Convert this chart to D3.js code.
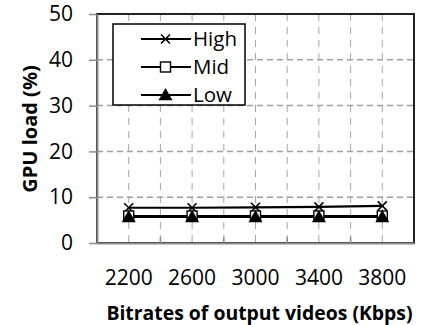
<!DOCTYPE html>
<html>
<head>
<meta charset="utf-8">
<script src="https://cdn.jsdelivr.net/npm/d3@7"></script>
<style>
  body { margin: 0; background: #fff; }
  svg { display: block; }
</style>
</head>
<body>
<svg id="chart" width="430" height="325"></svg>
<script>
const bitrates = ['2200', '2600', '3000', '3400', '3800'];
const high = [7.7, 7.7, 7.8, 7.9, 8.1];
const mid = [5.9, 5.9, 5.9, 5.9, 5.9];
const low = [5.7, 5.7, 5.7, 5.7, 5.7];
const yTicks = [0, 10, 20, 30, 40, 50];
const seriesNames = ['High', 'Mid', 'Low'];

const width = 430, height = 325;
const margin = {top: 14, right: 16, bottom: 82, left: 97};
const font = '"Open Sans", "Noto Sans", sans-serif';

const svg = d3.select('#chart');

const x = d3.scaleBand()
  .domain(bitrates)
  .range([margin.left, width - margin.right]);

const y = d3.scaleLinear()
  .domain([0, 50])
  .range([height - margin.bottom, margin.top]);

const x0 = margin.left, x1 = width - margin.right;
const y0 = y(0), y1 = y(50);

// vertical dashed grid at band centres and band edges
const vgrid = [];
bitrates.forEach((d, i) => {
  vgrid.push(x(d) + x.bandwidth() / 2);
  if(i > 0) vgrid.push(x(d));
});

svg.append('g')
  .selectAll('line')
  .data(vgrid)
  .enter()
  .append('line')
  .attr('x1', d => d).attr('x2', d => d)
  .attr('y1', y1).attr('y2', y0)
  .attr('stroke', '#a6a6a6')
  .attr('stroke-width', 1)
  .attr('stroke-dasharray', '7,6');

svg.append('g')
  .selectAll('line')
  .data(yTicks.filter(d => d > 0 && d < 50))
  .enter()
  .append('line')
  .attr('x1', x0).attr('x2', x1)
  .attr('y1', d => y(d)).attr('y2', d => y(d))
  .attr('stroke', '#a0a0a0')
  .attr('stroke-width', 1.5)
  .attr('stroke-dasharray', '6,4');

// plot frame (top/right)
svg.append('rect')
  .attr('x', x0).attr('y', y1)
  .attr('width', x1 - x0).attr('height', y0 - y1)
  .attr('fill', 'none')
  .attr('stroke', '#222')
  .attr('stroke-width', 2);

// left axis
const yAxis = svg.append('g')
  .attr('transform', `translate(${x0},0)`)
  .call(d3.axisLeft(y).tickValues(yTicks).tickSize(8).tickPadding(16).tickSizeOuter(0));
yAxis.select('.domain').attr('stroke', '#8c8c8c').attr('stroke-width', 2);
yAxis.selectAll('.tick line').attr('stroke', '#8c8c8c').attr('stroke-width', 1.5);
yAxis.selectAll('text')
  .attr('font-family', font)
  .attr('font-size', 21)
  .attr('fill', '#000');

// bottom axis
const xAxis = svg.append('g')
  .attr('transform', `translate(0,${y0})`)
  .call(d3.axisBottom(x).tickSize(0).tickPadding(27));
xAxis.select('.domain').attr('stroke', '#8c8c8c').attr('stroke-width', 2);
xAxis.selectAll('text')
  .attr('font-family', font)
  .attr('font-size', 21)
  .attr('fill', '#000');

// small tick marks at band edges on the bottom axis
svg.append('g')
  .selectAll('line')
  .data(bitrates.slice(1))
  .enter()
  .append('line')
  .attr('x1', d => x(d)).attr('x2', d => x(d))
  .attr('y1', y0).attr('y2', y0 - 6)
  .attr('stroke', '#8c8c8c')
  .attr('stroke-width', 1.5);

// titles
svg.append('text')
  .attr('transform', `translate(37,129) rotate(-90)`)
  .attr('text-anchor', 'middle')
  .attr('font-family', font)
  .attr('font-weight', 'bold')
  .attr('font-size', 20)
  .text('GPU load (%)');

svg.append('text')
  .attr('x', 259.5)
  .attr('y', 320)
  .attr('text-anchor', 'middle')
  .attr('font-family', font)
  .attr('font-weight', 'bold')
  .attr('font-size', 19.4)
  .text('Bitrates of output videos (Kbps)');

// markers
function drawMarker(g, kind, cx, cy) {
  if(kind === 'High') {
    const s = 4.5;
    g.append('path')
      .attr('d', `M${cx - s},${cy - s}L${cx + s},${cy + s}M${cx - s},${cy + s}L${cx + s},${cy - s}`)
      .attr('stroke', '#000')
      .attr('stroke-width', 1.6)
      .attr('fill', 'none');
  } else if(kind === 'Mid') {
    const s = 5;
    g.append('rect')
      .attr('x', cx - s).attr('y', cy - s)
      .attr('width', 2 * s).attr('height', 2 * s)
      .attr('fill', '#fff')
      .attr('stroke', '#000')
      .attr('stroke-width', 1.4);
  } else {
    const s = 7;
    g.append('path')
      .attr('d', `M${cx},${cy - s}L${cx + s},${cy + s * 0.75}L${cx - s},${cy + s * 0.75}Z`)
      .attr('fill', '#000');
  }
}

const series = [
  {name: 'High', values: high},
  {name: 'Mid', values: mid},
  {name: 'Low', values: low},
];

const line = d3.line()
  .x((d, i) => x(bitrates[i]) + x.bandwidth() / 2)
  .y(d => y(d));

// lines first, then markers (low drawn last on top)
series.forEach((s) => {
  svg.append('path')
    .datum(s.values)
    .attr('d', line)
    .attr('fill', 'none')
    .attr('stroke', '#000')
    .attr('stroke-width', 2.2);
});

series.forEach((s) => {
  const g = svg.append('g');
  s.values.forEach((v, i) => {
    drawMarker(g, s.name, x(bitrates[i]) + x.bandwidth() / 2, y(v));
  });
});

// legend
const legend = svg.append('g');
legend.append('rect')
  .attr('x', 113).attr('y', 24)
  .attr('width', 132).attr('height', 81)
  .attr('fill', '#fff')
  .attr('stroke', '#000')
  .attr('stroke-width', 1.5);

seriesNames.forEach((name, i) => {
  const ly = 39 + i * 28;
  legend.append('line')
    .attr('x1', 141).attr('x2', 191)
    .attr('y1', ly).attr('y2', ly)
    .attr('stroke', '#000')
    .attr('stroke-width', 1.8);
  drawMarker(legend, name, 165.5, ly);
  legend.append('text')
    .attr('x', 193)
    .attr('y', ly + 7)
    .attr('font-family', font)
    .attr('font-size', 20.5)
    .text(name);
});
</script>
</body>
</html>
